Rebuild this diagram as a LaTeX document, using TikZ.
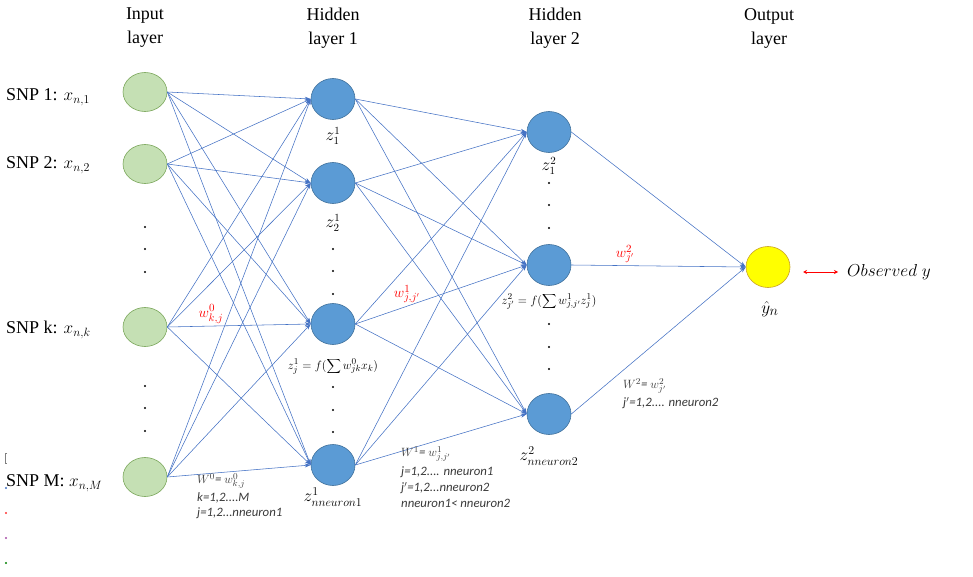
\documentclass[tikz,border=0pt]{standalone}
\usepackage{fontspec}
\setmainfont{Liberation Serif}
\newfontfamily\calib{Carlito}
\usetikzlibrary{arrows.meta,shapes.geometric}
\definecolor{edgeblue}{HTML}{4472C4}
\definecolor{nodeblue}{HTML}{5B9BD5}
\definecolor{nodebluedark}{HTML}{41719C}
\definecolor{nodegreen}{HTML}{C5E0B4}
\definecolor{nodegreendark}{HTML}{7AA65A}
\definecolor{outyellow}{HTML}{FFFF00}
\definecolor{outyellowdark}{HTML}{C9A227}
\definecolor{wred}{HTML}{FF0000}
\definecolor{annotgray}{HTML}{3A3A3A}
\tikzset{
  inneuron/.style={ellipse,draw=nodegreendark,fill=nodegreen,line width=0.6pt,minimum width=44pt,minimum height=39pt,inner sep=0pt},
  hidneuron/.style={ellipse,draw=nodebluedark,fill=nodeblue,line width=0.6pt,minimum width=44pt,minimum height=41pt,inner sep=0pt},
  outneuron/.style={ellipse,draw=outyellowdark,fill=outyellow,line width=0.6pt,minimum width=44pt,minimum height=41pt,inner sep=0pt},
  conn/.style={draw=edgeblue,line width=0.55pt,-{Stealth[length=6pt,width=4pt]}},
  title/.style={align=center,font=\fontsize{18}{24}\selectfont,inner sep=0pt},
  snp/.style={anchor=west,font=\fontsize{18}{20}\selectfont,inner sep=0pt},
  zlab/.style={font=\fontsize{16}{18}\selectfont,inner sep=0pt},
  flab/.style={font=\fontsize{12.5}{14}\selectfont,inner sep=0pt},
  wlab/.style={text=wred,font=\fontsize{15}{17}\selectfont,inner sep=0pt},
  annot/.style={anchor=west,text=annotgray,font=\calib\itshape\fontsize{12.8}{14}\selectfont,inner sep=0pt},
  dotn/.style={circle,fill=black,inner sep=0pt,minimum size=2.2pt},
}
\begin{document}
\begin{tikzpicture}[x=1pt,y=-1pt]
\useasboundingbox (0,0) rectangle (973,577);
% titles
\node[title] (t0) at (145,28) {Input\\layer};
\node[title] (t1) at (333,28) {Hidden\\layer 1};
\node[title] (t2) at (555,28) {Hidden\\layer 2};
\node[title] (t3) at (769,28) {Output\\layer};
% input neurons
\node[inneuron] (i1) at (145,92) {};
\node[inneuron] (i2) at (145,164) {};
\node[inneuron] (ik) at (145,327) {};
\node[inneuron] (iM) at (145,477) {};
% hidden 1
\node[hidneuron] (h1) at (333,99) {};
\node[hidneuron] (h2) at (333,183) {};
\node[hidneuron] (hj) at (333,324) {};
\node[hidneuron] (hN) at (333,465) {};
% hidden 2
\node[hidneuron] (g1) at (549,132) {};
\node[hidneuron] (gj) at (549,265) {};
\node[hidneuron] (gN) at (549,414) {};
% output
\node[outneuron] (o) at (768,267) {};
% SNP labels
\node[snp] (s1) at (6,97) {SNP 1: $x_{n,1}$};
\node[snp] (s2) at (6,165) {SNP 2: $x_{n,2}$};
\node[snp] (sk) at (6,330) {SNP k: $x_{n,k}$};
\node[snp] (sM) at (6,483) {SNP M: $x_{n,M}$};
% input dots
\foreach \yy [count=\c] in {227,249,272} \node[dotn] (di\c) at (145,\yy) {};
\foreach \yy [count=\c] in {386,408,431} \node[dotn] (dj\c) at (145,\yy) {};
% connectors input -> hidden 1
\foreach \a in {i1,i2,ik,iM}
  \foreach \b in {h1,h2,hj,hN}
    \draw[conn] (\a.east) -- (\b.west);
% hidden 1 -> hidden 2
\foreach \a in {h1,h2,hj,hN}
  \foreach \b in {g1,gj,gN}
    \draw[conn] (\a.east) -- (\b.west);
% hidden 2 -> output
\foreach \a in {g1,gj,gN}
  \draw[conn] (\a.east) -- (o.west);
% hidden 1 labels
\node[zlab] (z11) at (333,136) {$z_1^1$};
\node[zlab] (z21) at (333,223) {$z_2^1$};
\foreach \yy [count=\c] in {249,271,294} \node[dotn] (dh\c) at (333,\yy) {};
\node[flab] (f1) at (333,366) {$z_j^1 = f(\displaystyle\sum w_{jk}^0 x_k)$};
\foreach \yy [count=\c] in {387,410,432} \node[dotn] (dhb\c) at (333,\yy) {};
\node[zlab,font=\fontsize{17}{19}\selectfont] (zN1) at (333,497) {$z^1_{nneuron1}$};
% hidden 2 labels
\node[zlab] (z12) at (549,166) {$z_1^2$};
\foreach \yy [count=\c] in {183,205,228} \node[dotn] (dg\c) at (549,\yy) {};
\node[flab] (f2) at (549,301) {$z_{j'}^2 = f(\displaystyle\sum w^1_{j,j'} z_j^1)$};
\foreach \yy [count=\c] in {324,347,369} \node[dotn] (dgb\c) at (549,\yy) {};
\node[zlab,font=\fontsize{17}{19}\selectfont] (zN2) at (549,456) {$z^2_{nneuron2}$};
% output label
\node[zlab,font=\fontsize{19}{21}\selectfont] (yh) at (770,309) {$\hat{y}_n$};
% observed
\coordinate (ra) at (803,272);
\coordinate (rb) at (838,272);
\draw[wred,line width=0.8pt,{Stealth[length=4pt,width=4pt]}-{Stealth[length=4pt,width=4pt]}] (ra) -- (rb);
\node[anchor=west,font=\fontsize{19}{21}\selectfont,inner sep=0pt] (obs) at (847,272) {$Observed\ y$};
% red weights
\node[wlab] (w0) at (211,314) {$w^0_{k,j}$};
\node[wlab] (w1) at (407,294) {$w^1_{j,j'}$};
\node[wlab] (w2) at (625,254) {$w^2_{j'}$};
% annotations
\node[annot] (a01) at (197,481) {$W^0$= $w^0_{k,j}$};
\node[annot] (a02) at (197,498) {k=1,2....M};
\node[annot] (a03) at (197,513) {j=1,2...nneuron1};
\node[annot] (a11) at (401,454) {$W^1$= $w^1_{j,j'}$};
\node[annot] (a12) at (401,472) {j=1,2.... nneuron1};
\node[annot] (a13) at (401,488) {j$'$=1,2...nneuron2};
\node[annot] (a14) at (401,503) {nneuron1< nneuron2};
\node[annot] (a21) at (623,386) {$W^2$= $w^2_{j'}$};
\node[annot] (a22) at (623,403) {j$'$=1,2.... nneuron2};
% stray marks at the left edge
\draw[gray,line width=0.8pt] (7,453) -- (5,453) -- (5,463) -- (7,463);
\fill[edgeblue] (6,488) circle (1.1pt);
\fill[red!80] (6,513) circle (1.1pt);
\fill[violet!70] (6,538) circle (1.1pt);
\fill[green!50!black] (6,563) circle (1.1pt);
\end{tikzpicture}
\end{document}
